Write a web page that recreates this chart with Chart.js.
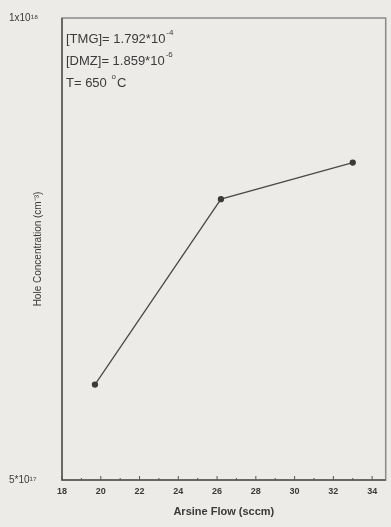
<!DOCTYPE html>
<html>
<head>
<meta charset="utf-8">
<script src="https://cdn.jsdelivr.net/npm/chart.js@4/dist/chart.umd.min.js"></script>
<style>
  html, body { margin: 0; padding: 0; background: #ecebe8; }
  #wrap { width: 391px; height: 527px; }
  canvas { filter: blur(0.5px); }
</style>
</head>
<body>
<div id="wrap"><canvas id="c" width="391" height="527"></canvas></div>
<script>
// Arsine flow (sccm) versus hole concentration (cm^-3)
const arsineFlow = [19.7, 26.2, 33.0];
const holeConc = [5.77e17, 7.62e17, 8.05e17];

// Axis ranges and labels
const xMin = 18, xMax = 34.7;
const xMajorTicks = [18, 20, 22, 24, 26, 28, 30, 32, 34];
const xMinorTicks = [19, 21, 23, 25, 27, 29, 31, 33];
const yMin = 5e17, yMax = 1e18;
const yTicks = [5e17, 1e18];
const yTickLabels = ['5*10\u00B9\u2077', '1x10\u00B9\u2078'];

// Growth conditions printed in the plot
const conditions = [
  { text: '[TMG]= 1.792*10', sup: '-4' },
  { text: '[DMZ]= 1.859*10', sup: '-6' },
  { text: 'T= 650 ', sup: 'o', tail: 'C' }
];

const ink = '#3a3a3a';
const fontFamily = '"Liberation Sans", Arial, sans-serif';

const framePlugin = {
  id: 'frame',
  afterDatasetsDraw(chart) {
    const { ctx, chartArea: a, scales } = chart;
    ctx.save();
    // box around the plot
    ctx.strokeStyle = '#8a8a8a';
    ctx.lineWidth = 1.5;
    ctx.strokeRect(a.left, a.top, a.right - a.left, a.bottom - a.top);
    ctx.strokeStyle = '#555';
    ctx.beginPath();
    ctx.moveTo(a.left, a.top); ctx.lineTo(a.left, a.bottom); ctx.lineTo(a.right, a.bottom);
    ctx.stroke();
    // inward tick marks on the x axis
    ctx.lineWidth = 1;
    ctx.strokeStyle = '#555';
    const x = scales.x;
    xMajorTicks.forEach(v => {
      const px = x.getPixelForValue(v);
      ctx.beginPath(); ctx.moveTo(px, a.bottom); ctx.lineTo(px, a.bottom - 4); ctx.stroke();
    });
    xMinorTicks.forEach(v => {
      const px = x.getPixelForValue(v);
      ctx.beginPath(); ctx.moveTo(px, a.bottom); ctx.lineTo(px, a.bottom - 2); ctx.stroke();
    });
    // condition text block
    ctx.fillStyle = ink;
    ctx.textBaseline = 'middle';
    ctx.textAlign = 'left';
    conditions.forEach((c, i) => {
      const tx = a.left + 4;
      const ty = a.top + 21 + i * 22;
      ctx.font = '13px ' + fontFamily;
      ctx.fillText(c.text, tx, ty);
      let w = ctx.measureText(c.text).width;
      ctx.font = '8px ' + fontFamily;
      ctx.fillText(c.sup, tx + w + 1, ty - 6);
      if (c.tail) {
        const sw = ctx.measureText(c.sup).width;
        ctx.font = '13px ' + fontFamily;
        ctx.fillText(c.tail, tx + w + sw + 2, ty);
      }
    });
    ctx.restore();
  }
};

new Chart(document.getElementById('c'), {
  type: 'line',
  data: {
    datasets: [{
      data: arsineFlow.map((f, i) => ({ x: f, y: holeConc[i] })),
      borderColor: '#4a4a4a',
      borderWidth: 1.3,
      backgroundColor: '#3a3a3a',
      pointBackgroundColor: '#3a3a3a',
      pointBorderColor: '#3a3a3a',
      pointRadius: 2.5,
      tension: 0
    }]
  },
  options: {
    responsive: false,
    animation: false,
    layout: { padding: { left: 9, right: 5, top: 18, bottom: 8 } },
    plugins: { legend: { display: false }, tooltip: { enabled: false } },
    scales: {
      x: {
        type: 'linear',
        min: xMin,
        max: xMax,
        afterBuildTicks(scale) { scale.ticks = xMajorTicks.map(v => ({ value: v })); },
        grid: { display: false, drawTicks: false },
        border: { display: false },
        ticks: {
          color: ink,
          padding: 6,
          maxRotation: 0,
          font: { family: fontFamily, size: 9, weight: 'bold' },
          callback: v => String(v)
        },
        title: {
          display: true,
          text: 'Arsine Flow (sccm)',
          color: ink,
          padding: { top: 3, bottom: 0 },
          font: { family: fontFamily, size: 11, weight: 'bold' }
        }
      },
      y: {
        type: 'logarithmic',
        min: yMin,
        max: yMax,
        afterBuildTicks(scale) { scale.ticks = yTicks.map(v => ({ value: v })); },
        afterFit(scale) { scale.width = 53; },
        grid: { display: false, drawTicks: false },
        border: { display: false },
        ticks: {
          color: ink,
          crossAlign: 'far',
          font: { family: fontFamily, size: 10 },
          callback: (v) => yTickLabels[yTicks.indexOf(v)] ?? ''
        },
        title: {
          display: true,
          text: 'Hole Concentration (cm\u207B\u00B3)',
          color: ink,
          padding: { top: 23, bottom: 0 },
          font: { family: fontFamily, size: 10 }
        }
      }
    }
  },
  plugins: [framePlugin]
});
</script>
</body>
</html>
